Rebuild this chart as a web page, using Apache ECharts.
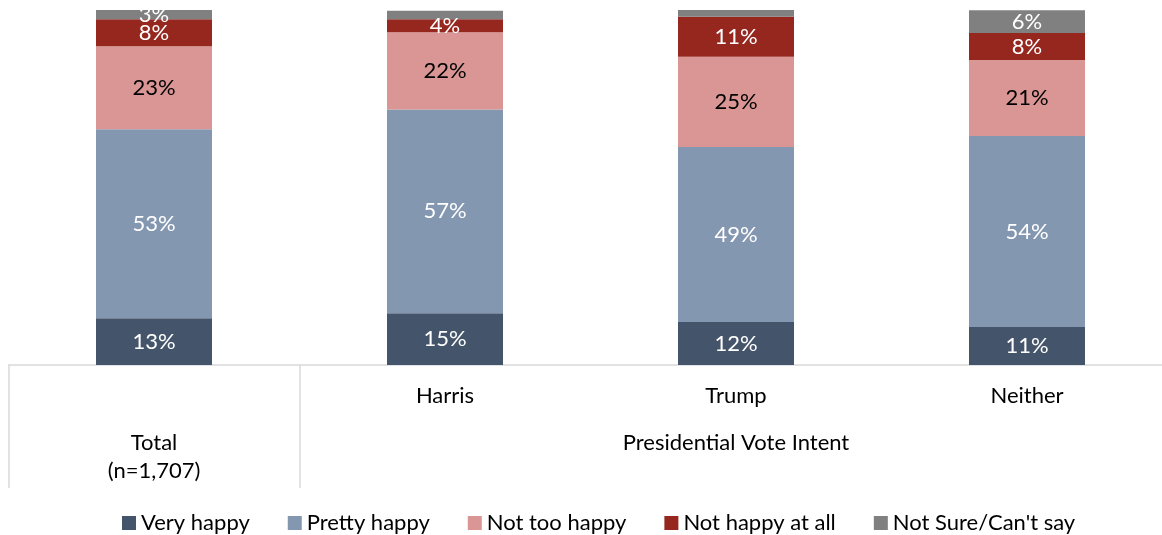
<!DOCTYPE html>
<html><head><meta charset="utf-8">
<script src="https://cdn.jsdelivr.net/npm/echarts@6/dist/echarts.min.js"></script>
<style>html,body{margin:0;padding:0;background:#fff}#c{width:1162px;height:535px}</style>
</head><body><div id="c"></div>
<script>
const categories = ['Total', 'Harris', 'Trump', 'Neither'];
const subLabels = ['', 'Harris', 'Trump', 'Neither'];
const groupLabels = ['Total\n(n=1,707)', '', 'Presidential Vote Intent', ''];
const veryHappy = [13.2, 14.6, 12.1, 10.7];
const prettyHappy = [53.2, 57.4, 49.3, 53.8];
const notTooHappy = [23.4, 21.7, 25.4, 21.4];
const notHappyAtAll = [7.6, 3.7, 11.3, 7.6];
const notSure = [2.6, 2.4, 1.9, 6.4];
const seriesNames = ['Very happy', 'Pretty happy', 'Not too happy', 'Not happy at all', 'Not Sure/Can\'t say'];
const colors = ['#44546a', '#8497b0', '#da9694', '#95271f', '#808080'];
const labelColors = ['#fff', '#fff', '#000', '#fff', '#fff'];
const values = [veryHappy, prettyHappy, notTooHappy, notHappyAtAll, notSure];
const FONT = 'Lato, "Open Sans", sans-serif';
const FS = 22;

const chart = echarts.init(document.getElementById('c'));
chart.setOption({
  animation: false,
  color: colors,
  textStyle: { fontFamily: FONT },
  grid: { left: 8.5, top: 10, width: 1164, height: 355, outerBoundsMode: 'none', containLabel: false },
  legend: {
    top: 507, left: 117, itemWidth: 14, itemHeight: 14, itemGap: 38, icon: 'rect',
    textStyle: { fontSize: FS, color: '#000', fontFamily: FONT },
    data: seriesNames
  },
  xAxis: [
    {
      type: 'category', data: subLabels, position: 'bottom',
      axisLine: { lineStyle: { color: '#d9d9d9', width: 1.5 } },
      axisTick: { show: true, length: 123, lineStyle: { color: '#d9d9d9', width: 1.5 },
        interval: function (i) { return i <= 1; } },
      axisLabel: { margin: 20, fontSize: FS, color: '#000', fontFamily: FONT, interval: 0 }
    },
    {
      type: 'category', data: groupLabels, position: 'bottom', offset: 0,
      axisLine: { show: false }, axisTick: { show: false },
      axisLabel: { margin: 64, fontSize: FS, color: '#000', lineHeight: 28, fontFamily: FONT, interval: 0 }
    }
  ],
  yAxis: { type: 'value', min: 0, max: 100, show: false },
  series: values.map((v, k) => ({
    name: seriesNames[k], type: 'bar', stack: 'a', barWidth: 116, data: v,
    label: {
      show: true, position: 'inside', color: labelColors[k], fontSize: FS, fontFamily: FONT,
      formatter: p => (k === 4 && p.value < 2.5) ? '' : Math.round(p.value) + '%'
    }
  }))
});
</script></body></html>
